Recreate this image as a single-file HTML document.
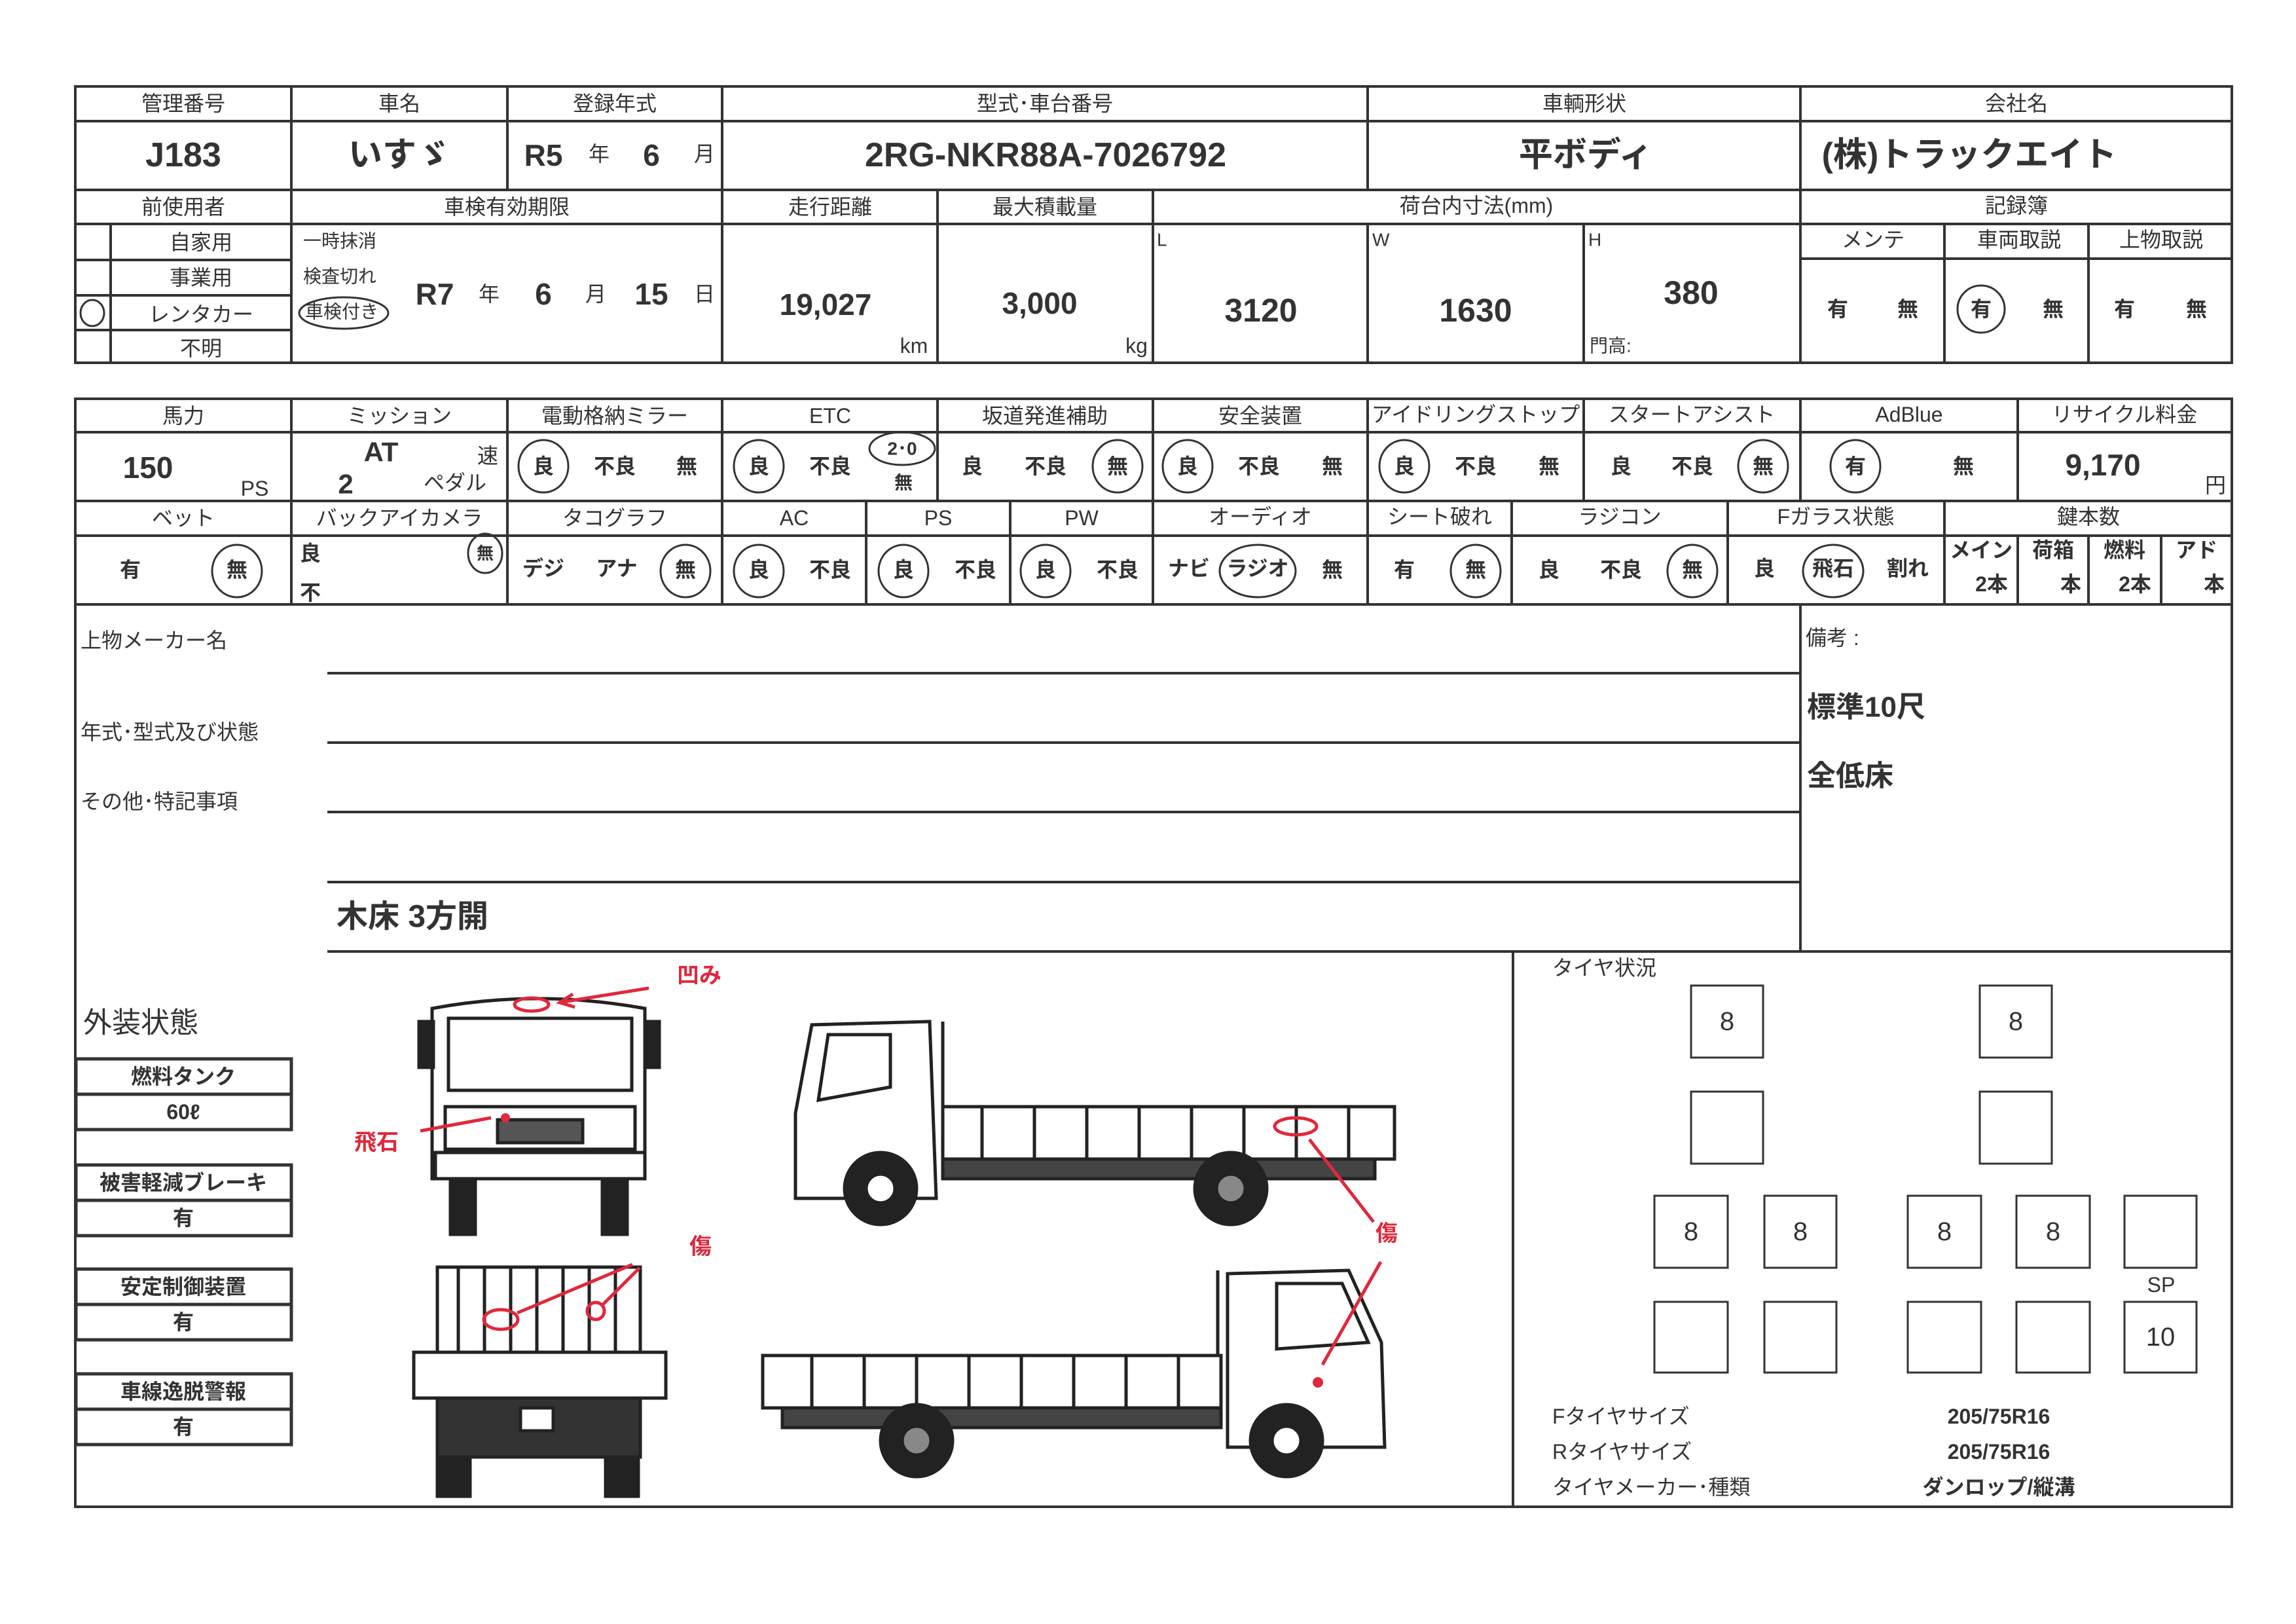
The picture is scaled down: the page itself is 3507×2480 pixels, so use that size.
<!DOCTYPE html>
<html><head><meta charset="utf-8"><style>
html,body{margin:0;padding:0;background:#fff}
svg{display:block}
text{font-family:"Liberation Sans","Noto Sans CJK JP",sans-serif;fill:#333;text-anchor:middle;dominant-baseline:central}
.st text{text-anchor:start !important}
.h{font-size:32px}
.v{font-size:40px;font-weight:bold}
.b{font-size:52px;font-weight:bold}
.s{font-size:28px}
.r{fill:#e0283c;font-weight:bold;font-size:34px}
</style></head><body>
<svg width="3507" height="2480" viewBox="0 0 3507 2480" xmlns="http://www.w3.org/2000/svg">
<rect width="3507" height="2480" fill="#fff"/>
<g stroke="#333" stroke-width="4" fill="none">
<rect x="115" y="132" width="3294" height="422"/>
<line x1="115" y1="185" x2="3409" y2="185"/>
<line x1="115" y1="290" x2="3409" y2="290"/>
<line x1="115" y1="342" x2="3409" y2="342"/>
<line x1="115" y1="397" x2="445" y2="397"/>
<line x1="115" y1="451" x2="445" y2="451"/>
<line x1="115" y1="504" x2="445" y2="504"/>
<line x1="2750" y1="395" x2="3409" y2="395"/>
<line x1="445" y1="132" x2="445" y2="554"/>
<line x1="775" y1="132" x2="775" y2="290"/>
<line x1="1103" y1="132" x2="1103" y2="554"/>
<line x1="2089" y1="132" x2="2089" y2="290"/>
<line x1="2750" y1="132" x2="2750" y2="554"/>
<line x1="169" y1="342" x2="169" y2="554"/>
<line x1="1432" y1="290" x2="1432" y2="554"/>
<line x1="1761" y1="290" x2="1761" y2="554"/>
<line x1="2089" y1="342" x2="2089" y2="554"/>
<line x1="2419" y1="342" x2="2419" y2="554"/>
<line x1="2970" y1="342" x2="2970" y2="554"/>
<line x1="3190" y1="342" x2="3190" y2="554"/>

<rect x="115" y="609" width="3294" height="314"/>
<line x1="115" y1="660" x2="3409" y2="660"/>
<line x1="115" y1="765" x2="3409" y2="765"/>
<line x1="115" y1="818" x2="3409" y2="818"/>
<line x1="445" y1="609" x2="445" y2="923"/>
<line x1="775" y1="609" x2="775" y2="923"/>
<line x1="1103" y1="609" x2="1103" y2="923"/>
<line x1="1432" y1="609" x2="1432" y2="765"/>
<line x1="1761" y1="609" x2="1761" y2="923"/>
<line x1="2089" y1="609" x2="2089" y2="923"/>
<line x1="2419" y1="609" x2="2419" y2="765"/>
<line x1="2750" y1="609" x2="2750" y2="765"/>
<line x1="3082" y1="609" x2="3082" y2="765"/>
<line x1="1323" y1="765" x2="1323" y2="923"/>
<line x1="1543" y1="765" x2="1543" y2="923"/>
<line x1="2309" y1="765" x2="2309" y2="923"/>
<line x1="2639" y1="765" x2="2639" y2="923"/>
<line x1="2970" y1="765" x2="2970" y2="923"/>
<line x1="3082" y1="818" x2="3082" y2="923"/>
<line x1="3190" y1="818" x2="3190" y2="923"/>
<line x1="3301" y1="818" x2="3301" y2="923"/>

<rect x="115" y="923" width="3294" height="1378"/>
<line x1="2750" y1="923" x2="2750" y2="1453"/>
<line x1="500" y1="1028" x2="2750" y2="1028"/>
<line x1="500" y1="1134" x2="2750" y2="1134"/>
<line x1="500" y1="1240" x2="2750" y2="1240"/>
<line x1="500" y1="1347" x2="2750" y2="1347"/>
<line x1="500" y1="1453" x2="3409" y2="1453"/>
<line x1="2311" y1="1453" x2="2311" y2="2301"/>

<g stroke-width="5">
<rect x="116" y="1617" width="329" height="108"/><line x1="116" y1="1671" x2="445" y2="1671"/>
<rect x="116" y="1779" width="329" height="108"/><line x1="116" y1="1833" x2="445" y2="1833"/>
<rect x="116" y="1938" width="329" height="108"/><line x1="116" y1="1992" x2="445" y2="1992"/>
<rect x="116" y="2098" width="329" height="108"/><line x1="116" y1="2152" x2="445" y2="2152"/>
</g>
<g stroke-width="3">
<rect x="2583" y="1505" width="110" height="110"/>
<rect x="3024" y="1505" width="110" height="110"/>
<rect x="2583" y="1667" width="110" height="110"/>
<rect x="3024" y="1667" width="110" height="110"/>
<rect x="2527" y="1826" width="112" height="110"/>
<rect x="2695" y="1826" width="110" height="110"/>
<rect x="2914" y="1826" width="112" height="110"/>
<rect x="3080" y="1826" width="112" height="110"/>
<rect x="3245" y="1826" width="110" height="110"/>
<rect x="2527" y="1988" width="112" height="108"/>
<rect x="2695" y="1988" width="110" height="108"/>
<rect x="2914" y="1988" width="112" height="108"/>
<rect x="3080" y="1988" width="112" height="108"/>
<rect x="3245" y="1988" width="110" height="108"/>
</g>

<g stroke-width="3">
<ellipse cx="141" cy="478" rx="18" ry="20"/>
<ellipse cx="525" cy="478" rx="68" ry="24"/>
<ellipse cx="3026" cy="472" rx="36" ry="36"/>
<ellipse cx="830" cy="712" rx="38" ry="40"/>
<ellipse cx="1159" cy="712" rx="38" ry="40"/>
<ellipse cx="1378" cy="685" rx="50" ry="25"/>
<ellipse cx="1707" cy="712" rx="38" ry="40"/>
<ellipse cx="1814" cy="712" rx="38" ry="40"/>
<ellipse cx="2145" cy="712" rx="38" ry="40"/>
<ellipse cx="2693" cy="712" rx="38" ry="40"/>
<ellipse cx="2834" cy="712" rx="38" ry="40"/>
<ellipse cx="362" cy="872" rx="38" ry="40"/>
<ellipse cx="741" cy="845" rx="26" ry="30"/>
<ellipse cx="1047" cy="872" rx="38" ry="40"/>
<ellipse cx="1159" cy="872" rx="38" ry="40"/>
<ellipse cx="1380" cy="872" rx="38" ry="40"/>
<ellipse cx="1597" cy="872" rx="38" ry="40"/>
<ellipse cx="1921" cy="872" rx="58" ry="40"/>
<ellipse cx="2254" cy="872" rx="38" ry="40"/>
<ellipse cx="2585" cy="872" rx="38" ry="40"/>
<ellipse cx="2800" cy="872" rx="46" ry="40"/>
</g>
</g>

<g stroke="#222" stroke-width="5" fill="none">
<path d="M660 1540 Q820 1510 985 1540 L985 1800 L660 1800 Z"/>
<rect x="685" y="1555" width="280" height="110"/>
<rect x="680" y="1690" width="290" height="65"/>
<rect x="665" y="1760" width="320" height="40"/>
<rect x="640" y="1560" width="22" height="70" fill="#222"/>
<rect x="985" y="1560" width="22" height="70" fill="#222"/>
<rect x="688" y="1800" width="38" height="85" fill="#222"/>
<rect x="920" y="1800" width="38" height="85" fill="#222"/>
<rect x="760" y="1710" width="130" height="35" fill="#555"/>
<rect x="668" y="1935" width="310" height="130"/>
<path d="M700 1935V2065M740 1935V2065M780 1935V2065M820 1935V2065M860 1935V2065M900 1935V2065M940 1935V2065"/>
<rect x="632" y="2065" width="385" height="70"/>
<rect x="668" y="2135" width="310" height="90" fill="#333"/>
<rect x="795" y="2150" width="50" height="35" fill="#fff"/>
<rect x="668" y="2225" width="50" height="60" fill="#222"/>
<rect x="925" y="2225" width="50" height="60" fill="#222"/>
<path d="M1215 1830 L1215 1700 L1240 1565 L1420 1560 L1430 1830 Z"/>
<path d="M1250 1680 L1265 1580 L1360 1580 L1360 1660 Z"/>
<rect x="1440" y="1690" width="690" height="80"/>
<path d="M1500 1690V1770M1580 1690V1770M1660 1690V1770M1740 1690V1770M1820 1690V1770M1900 1690V1770M1980 1690V1770M2060 1690V1770"/>
<rect x="1440" y="1770" width="660" height="30" fill="#444"/>
<line x1="1440" y1="1560" x2="1440" y2="1690"/>
<circle cx="1345" cy="1815" r="55" fill="#222"/><circle cx="1345" cy="1815" r="22" fill="#fff"/>
<circle cx="1880" cy="1815" r="55" fill="#222"/><circle cx="1880" cy="1815" r="22" fill="#888"/>
<rect x="1165" y="2070" width="700" height="80"/>
<path d="M1240 2070V2150M1320 2070V2150M1400 2070V2150M1480 2070V2150M1560 2070V2150M1640 2070V2150M1720 2070V2150M1800 2070V2150"/>
<rect x="1195" y="2150" width="670" height="30" fill="#444"/>
<path d="M1875 2210 L1875 1945 L2060 1940 L2110 2050 L2115 2210 Z"/>
<path d="M1950 1960 L2050 1960 L2090 2050 L1950 2060 Z"/>
<line x1="1860" y1="1940" x2="1860" y2="2070"/>
<circle cx="1400" cy="2200" r="55" fill="#222"/><circle cx="1400" cy="2200" r="22" fill="#888"/>
<circle cx="1965" cy="2200" r="55" fill="#222"/><circle cx="1965" cy="2200" r="22" fill="#fff"/>
</g>

<g stroke="#e0283c" stroke-width="5" fill="none">
<ellipse cx="812" cy="1534" rx="26" ry="10"/>
<line x1="991" y1="1509" x2="860" y2="1530"/>
<path d="M875 1518 L855 1531 L878 1538"/>
<line x1="642" y1="1727" x2="750" y2="1707"/>
<ellipse cx="1979" cy="1720" rx="32" ry="13"/>
<line x1="2000" y1="1740" x2="2098" y2="1866"/>
<line x1="2109" y1="1927" x2="2020" y2="2084"/>
<ellipse cx="765" cy="2015" rx="26" ry="15"/>
<ellipse cx="910" cy="2002" rx="13" ry="13"/>
<line x1="966" y1="1931" x2="790" y2="2005"/>
<line x1="977" y1="1936" x2="918" y2="1995"/>
</g>
<circle cx="772" cy="1707" r="7" fill="#e0283c"/>
<circle cx="2013" cy="2111" r="8" fill="#e0283c"/>
<text class="r" x="1068" y="1490">凹み</text>
<text class="r" x="575" y="1745">飛石</text>
<text class="r" x="1070" y="1904">傷</text>
<text class="r" x="2118" y="1884">傷</text>

<g class="h">
<text x="280" y="158">管理番号</text><text x="610" y="158">車名</text><text x="939" y="158">登録年式</text>
<text x="1596" y="158">型式･車台番号</text><text x="2420" y="158">車輌形状</text><text x="3080" y="158">会社名</text>
<text x="280" y="316">前使用者</text><text x="774" y="316">車検有効期限</text><text x="1268" y="316">走行距離</text>
<text x="1596" y="316">最大積載量</text><text x="2255" y="314">荷台内寸法(mm)</text><text x="3080" y="314">記録簿</text>
<text x="307" y="370">自家用</text><text x="307" y="424">事業用</text><text x="307" y="480">レンタカー</text><text x="307" y="532">不明</text>
<text x="2861" y="366">メンテ</text><text x="3084" y="366">車両取説</text><text x="3301" y="366">上物取説</text>
</g>
<text class="b" x="280" y="237">J183</text>
<text class="b" x="610" y="237">いすゞ</text>
<text class="v" x="830" y="237" style="font-size:46px">R5</text><text class="h" x="915" y="235">年</text>
<text class="v" x="995" y="237" style="font-size:46px">6</text><text class="h" x="1076" y="235">月</text>
<text class="b" x="1597" y="237">2RG-NKR88A-7026792</text>
<text class="b" x="2422" y="237">平ボディ</text>
<text class="b" x="3008" y="237">(株)トラックエイト</text>
<g class="s st">
<text x="463" y="368">一時抹消</text><text x="463" y="422">検査切れ</text><text x="466" y="476">車検付き</text>
</g>
<text class="v" x="664" y="449" style="font-size:46px">R7</text><text class="h" x="747" y="449">年</text>
<text class="v" x="830" y="449" style="font-size:46px">6</text><text class="h" x="910" y="449">月</text>
<text class="v" x="995" y="449" style="font-size:46px">15</text><text class="h" x="1076" y="449">日</text>
<text class="v" x="1261" y="465" style="font-size:46px">19,027</text><text class="h" x="1396" y="528">km</text>
<text class="v" x="1588" y="463" style="font-size:46px">3,000</text><text class="h" x="1736" y="528">kg</text>
<g class="s st"><text x="1767" y="366">L</text><text x="2096" y="366">W</text><text x="2426" y="366">H</text><text x="2428" y="528">門高:</text></g>
<text class="v" x="1926" y="474" style="font-size:50px">3120</text>
<text class="v" x="2254" y="474" style="font-size:50px">1630</text>
<text class="v" x="2583" y="447" style="font-size:50px">380</text>
<g class="h" style="font-weight:bold">
<text x="2807" y="472">有</text><text x="2914" y="472">無</text><text x="3026" y="472">有</text><text x="3136" y="472">無</text>
<text x="3245" y="472">有</text><text x="3355" y="472">無</text>
</g>

<g class="h">
<text x="280" y="635">馬力</text><text x="610" y="635">ミッション</text><text x="939" y="635">電動格納ミラー</text>
<text x="1268" y="635">ETC</text><text x="1596" y="635">坂道発進補助</text><text x="1925" y="635">安全装置</text>
<text x="2254" y="633">アイドリングストップ</text><text x="2584" y="633">スタートアシスト</text><text x="2916" y="633">AdBlue</text>
<text x="3245" y="633">リサイクル料金</text>
<text x="280" y="791">ベット</text><text x="610" y="791">バックアイカメラ</text><text x="939" y="791">タコグラフ</text>
<text x="1213" y="791">AC</text><text x="1433" y="791">PS</text><text x="1652" y="791">PW</text>
<text x="1925" y="789">オーディオ</text><text x="2199" y="789">シート破れ</text><text x="2474" y="789">ラジコン</text>
<text x="2804" y="789">Fガラス状態</text><text x="3190" y="789">鍵本数</text>
</g>
<text class="v" x="226" y="714" style="font-size:46px">150</text><text class="h" x="389" y="746">PS</text>
<text class="v" x="582" y="690" style="font-size:42px">AT</text><text class="h" x="745" y="696">速</text>
<text class="v" x="528" y="739" style="font-size:42px">2</text><text class="h" x="695" y="737">ペダル</text>
<g class="h" style="font-weight:bold">
<text x="830" y="712">良</text><text x="939" y="712">不良</text><text x="1049" y="712">無</text>
<text x="1159" y="712">良</text><text x="1268" y="712">不良</text>
<text x="1485" y="712">良</text><text x="1597" y="712">不良</text><text x="1707" y="712">無</text>
<text x="1814" y="712">良</text><text x="1923" y="712">不良</text><text x="2035" y="712">無</text>
<text x="2145" y="712">良</text><text x="2254" y="712">不良</text><text x="2366" y="712">無</text>
<text x="2476" y="712">良</text><text x="2585" y="712">不良</text><text x="2693" y="712">無</text>
<text x="2834" y="712">有</text><text x="2999" y="712">無</text>
<text x="199" y="870">有</text><text x="362" y="870">無</text>
<text x="474" y="845">良</text><text x="474" y="905">不</text><text x="741" y="845" style="font-size:26px">無</text>
<text x="830" y="868">デジ</text><text x="942" y="868">アナ</text><text x="1047" y="870">無</text>
<text x="1159" y="870">良</text><text x="1268" y="870">不良</text>
<text x="1380" y="870">良</text><text x="1490" y="870">不良</text>
<text x="1597" y="870">良</text><text x="1707" y="870">不良</text>
<text x="1816" y="868">ナビ</text><text x="1921" y="868">ラジオ</text><text x="2035" y="870">無</text>
<text x="2145" y="870">有</text><text x="2254" y="870">無</text>
<text x="2366" y="870">良</text><text x="2476" y="870">不良</text><text x="2585" y="870">無</text>
<text x="2695" y="868">良</text><text x="2800" y="868">飛石</text><text x="2914" y="868">割れ</text>
<text x="3026" y="840">メイン</text><text x="3042" y="892">2本</text>
<text x="3136" y="840">荷箱</text><text x="3163" y="892">本</text>
<text x="3245" y="840">燃料</text><text x="3261" y="892">2本</text>
<text x="3355" y="840">アド</text><text x="3382" y="892">本</text>
</g>
<text class="s" x="1378" y="685" style="font-weight:bold">2･0</text>
<text class="h" x="1380" y="737" style="font-weight:bold;font-size:28px">無</text>
<text class="v" x="3212" y="710" style="font-size:46px">9,170</text><text class="h" x="3384" y="741">円</text>

<g class="h st">
<text x="123" y="978">上物メーカー名</text>
<text x="123" y="1118">年式･型式及び状態</text>
<text x="123" y="1224">その他･特記事項</text>
<text x="2758" y="974">備考 :</text>
<text x="2371" y="1478">タイヤ状況</text>
<text x="2371" y="2163">Fタイヤサイズ</text>
<text x="2371" y="2217">Rタイヤサイズ</text>
<text x="2371" y="2271">タイヤメーカー･種類</text>
</g>
<text class="v" x="514" y="1400" style="text-anchor:start;font-size:48px">木床  3方開</text>
<text class="v" x="2760" y="1080" style="text-anchor:start;font-size:44px">標準10尺</text>
<text class="v" x="2760" y="1185" style="text-anchor:start;font-size:44px">全低床</text>
<text x="127" y="1562" style="font-size:44px;text-anchor:start">外装状態</text>
<g class="h" style="font-weight:bold">
<text x="280" y="1644">燃料タンク</text><text x="280" y="1698">60ℓ</text>
<text x="280" y="1806">被害軽減ブレーキ</text><text x="280" y="1860">有</text>
<text x="280" y="1965">安定制御装置</text><text x="280" y="2019">有</text>
<text x="280" y="2125">車線逸脱警報</text><text x="280" y="2179">有</text>
<text x="3053" y="2163">205/75R16</text><text x="3053" y="2217">205/75R16</text><text x="3053" y="2271">ダンロップ/縦溝</text>
</g>
<g style="font-size:40px">
<text x="2638" y="1560">8</text><text x="3079" y="1560">8</text>
<text x="2583" y="1881">8</text><text x="2750" y="1881">8</text><text x="2970" y="1881">8</text><text x="3136" y="1881">8</text>
<text x="3300" y="2042">10</text>
</g>
<text class="h" x="3301" y="1962">SP</text>
</svg>
</body></html>
